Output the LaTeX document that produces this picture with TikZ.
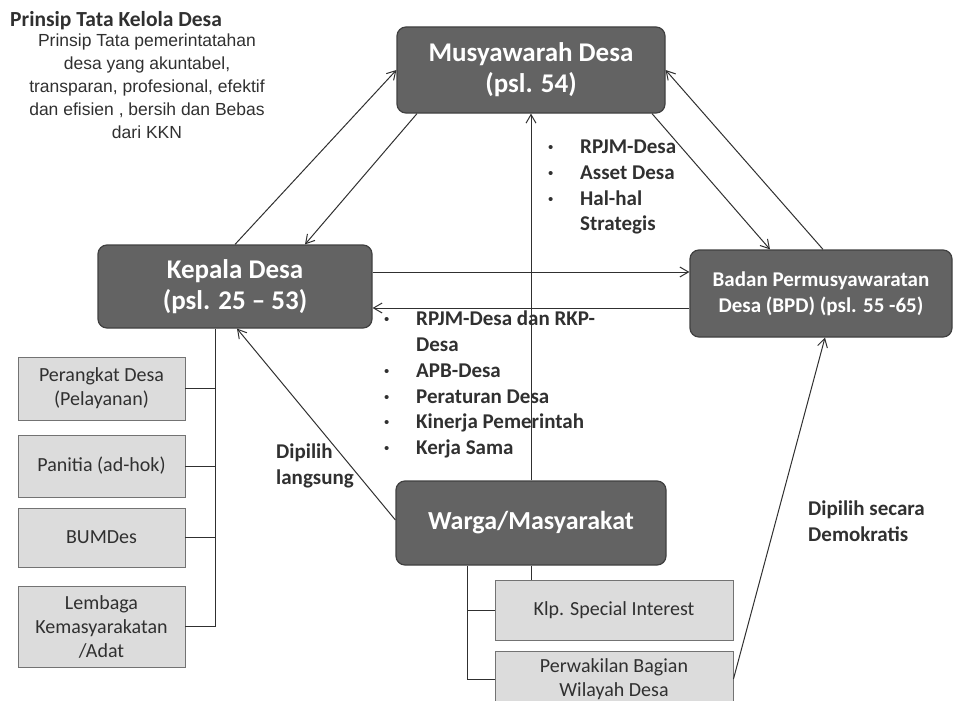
\documentclass[tikz,border=0pt]{standalone}
\usepackage{fontspec}
\setmainfont{Carlito}
\newfontfamily\arialfont{Liberation Sans}
\usetikzlibrary{arrows.meta}
\definecolor{boxdark}{HTML}{636363}
\definecolor{boxlight}{HTML}{DCDCDC}
\definecolor{inkgray}{HTML}{303030}
\newcommand{\bul}{\makebox[32pt][l]{\raisebox{1pt}{\normalfont\arialfont\fontsize{15}{15}\selectfont\textbullet}}}

\begin{document}
\begin{tikzpicture}[x=1pt,y=-1pt,>={Straight Barb[length=3mm,width=3.5mm]},
  mainbox/.style={draw=black!75,line width=1.2pt,fill=boxdark,rounded corners=9pt,
    text=white,align=center,inner sep=2pt},
  subbox/.style={draw=black!55,line width=0.9pt,fill=boxlight,text=inkgray,
    align=center,inner sep=2pt,font=\fontsize{20}{24}\selectfont},
  link/.style={draw=inkgray,line width=1pt},
  notetext/.style={text=inkgray,align=left,inner sep=0pt,
    font=\fontsize{21}{25.7}\selectfont\bfseries}]
  \useasboundingbox (0,0) rectangle (953,701);
  \node[mainbox,minimum width=268,minimum height=86,
    font=\fontsize{27}{31}\selectfont\bfseries] (musdes) at (531,70) {Musyawarah Desa\\(psl. 54)};
  \node[mainbox,minimum width=274,minimum height=83,
    font=\fontsize{27}{31}\selectfont\bfseries] (kades) at (235,286.5) {Kepala Desa\\(psl. 25 – 53)};
  \node[mainbox,minimum width=262,minimum height=87,
    font=\fontsize{21}{26}\selectfont\bfseries] (bpd) at (821,293.5) {Badan Permusyawaratan\\Desa (BPD) (psl. 55 -65)};
  \node[mainbox,minimum width=270,minimum height=84,
    font=\fontsize{26}{30}\selectfont\bfseries] (warga) at (531,523) {Warga/Masyarakat};
  \node[subbox,minimum width=167,minimum height=63] (perangkat) at (101.5,388.5) {Perangkat Desa\\(Pelayanan)};
  \node[subbox,minimum width=167,minimum height=62] (panitia) at (101.5,466) {Panitia (ad-hok)};
  \node[subbox,minimum width=167,minimum height=59] (bumdes) at (101.5,537.5) {BUMDes};
  \node[subbox,minimum width=167,minimum height=81] (lembaga) at (101.5,626.5) {Lembaga\\Kemasyarakatan\\/Adat};
  \node[subbox,minimum width=238,minimum height=60] (klp) at (614,610) {Klp. Special Interest};
  \node[subbox,minimum width=238,minimum height=56] (wilayah) at (614,679) {Perwakilan Bagian\\Wilayah Desa};
  \node[anchor=base west,inner sep=0pt,text=inkgray,
    font=\fontsize{21.5}{25}\selectfont\bfseries] (judul) at (10,27) {Prinsip Tata Kelola Desa};
  \node[anchor=north,align=center,inner sep=0pt,text=inkgray,
    font=\arialfont\fontsize{17.5}{23}\selectfont] (prinsip) at (147,34)
    {Prinsip Tata pemerintatahan\\desa yang akuntabel,\\transparan, profesional, efektif\\dan efisien , bersih dan Bebas\\dari KKN};
  \node[notetext,anchor=north west] (strategis) at (548,140)
    {\bul RPJM-Desa\\\bul Asset Desa\\\bul Hal-hal\\\phantom{\bul}Strategis};
  \node[notetext,anchor=north west] (dokumen) at (384,311)
    {\bul RPJM-Desa dan RKP-\\\phantom{\bul}Desa\\\bul APB-Desa\\\bul Peraturan Desa\\\bul Kinerja Pemerintah\\\bul Kerja Sama};
  \node[notetext,anchor=north west] (langsung) at (276,444) {Dipilih\\langsung};
  \node[notetext,anchor=north west] (demokratis) at (808,501) {Dipilih secara\\Demokratis};
  % struktur di bawah kepala desa dan warga
  \coordinate (ktrunk) at (215,0);
  \draw[link] (kades.south -| ktrunk) -- (lembaga.east -| ktrunk);
  \foreach \b in {perangkat,panitia,bumdes,lembaga}
    \draw[link] (\b.east) -- (\b.east -| ktrunk);
  \coordinate (wtrunk) at (467,0);
  \draw[link] (warga.south -| wtrunk) -- (wilayah.west -| wtrunk);
  \foreach \b in {klp,wilayah}
    \draw[link] (\b.west) -- (\b.west -| wtrunk);
  \draw[link] (warga.south) -- (warga.south |- klp.north);
  % hubungan antar lembaga
  \draw[link,->] (kades.north) -- (musdes.west);
  \draw[link,->] ([xshift=-114pt]musdes.south) -- ([xshift=70pt]kades.north);
  \draw[link,->] ([xshift=121pt]musdes.south) -- ([xshift=-51pt]bpd.north);
  \draw[link,->] ([xshift=2pt]bpd.north) -- (musdes.east);
  \coordinate (kb) at ([yshift=14.5pt]kades.east);
  \draw[link,->] (kb) -- (kb -| bpd.west);
  \coordinate (bk) at ([yshift=-14.5pt]bpd.west);
  \draw[link,->] (bk) -- (bk -| kades.east);
  \draw[link,->] ([yshift=3pt]warga.west) -- ([xshift=2pt]kades.south);
  \draw[link,->] (warga.north) -- (musdes.south);
  \draw[link,->] (wilayah.east) -- ([xshift=4pt]bpd.south);
\end{tikzpicture}
\end{document}
